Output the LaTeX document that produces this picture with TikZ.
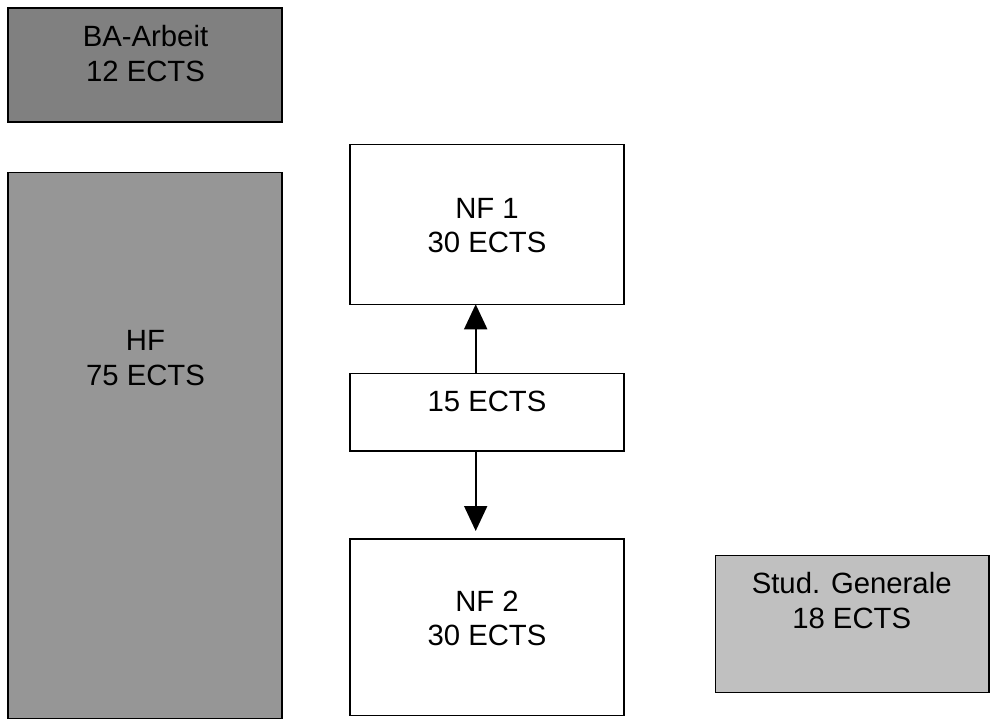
\documentclass[tikz,border=0pt]{standalone}
\usepackage{fontspec}
\setmainfont{Liberation Sans}
\usetikzlibrary{arrows.meta}
\definecolor{badark}{HTML}{808080}
\definecolor{hfgray}{HTML}{969696}
\definecolor{sglight}{HTML}{C0C0C0}
\begin{document}
\begin{tikzpicture}[x=1pt,y=-1pt,
  box/.style={draw=black, line width=1.3pt, rectangle, inner sep=0pt, outer sep=0pt},
  txt/.style={anchor=base, inner sep=0pt, font=\fontsize{29.3}{34}\selectfont},
  arr/.style={line width=1.8pt, -{Triangle[width=23pt,length=25pt]}}]
\useasboundingbox (0,0) rectangle (991,720);
% boxes
\node[box, fill=badark, minimum width=274pt, minimum height=114pt] (ba) at (145,65) {};
\node[box, fill=hfgray, minimum width=274pt, minimum height=546pt] (hf) at (145,445.5) {};
\node[box, fill=white, minimum width=274pt, minimum height=159.5pt] (nf1) at (487,224.5) {};
\node[box, fill=white, minimum width=274pt, minimum height=77.7pt] (m) at (487,412.2) {};
\node[box, fill=white, minimum width=274pt, minimum height=176.7pt] (nf2) at (487,627.4) {};
\node[box, fill=sglight, minimum width=273.7pt, minimum height=136.6pt] (sg) at (852,624) {};
% texts
\node[txt] (ba1) at (145.5,46.7) {BA-Arbeit};
\node[txt] (ba2) at (145.5,81.7) {12 ECTS};
\node[txt] (hf1) at (145.5,350.7) {HF};
\node[txt] (hf2) at (145.5,385.2) {75 ECTS};
\node[txt] (nf1a) at (487,218.3) {NF 1};
\node[txt] (nf1b) at (487,252.3) {30 ECTS};
\node[txt] (m1) at (487,411.7) {15 ECTS};
\node[txt] (nf2a) at (487,611.7) {NF 2};
\node[txt] (nf2b) at (487,645.7) {30 ECTS};
\node[txt] (sg1) at (851.7,593.3) {Stud. Generale};
\node[txt] (sg2) at (851.7,628.3) {18 ECTS};
% arrows
\coordinate (ax) at (475.7,0);
\coordinate (dtip) at (475.7,531);
\draw[arr] (m.north -| ax) -- (nf1.south -| ax);
\draw[arr] (m.south -| ax) -- (dtip);
\end{tikzpicture}
\end{document}
